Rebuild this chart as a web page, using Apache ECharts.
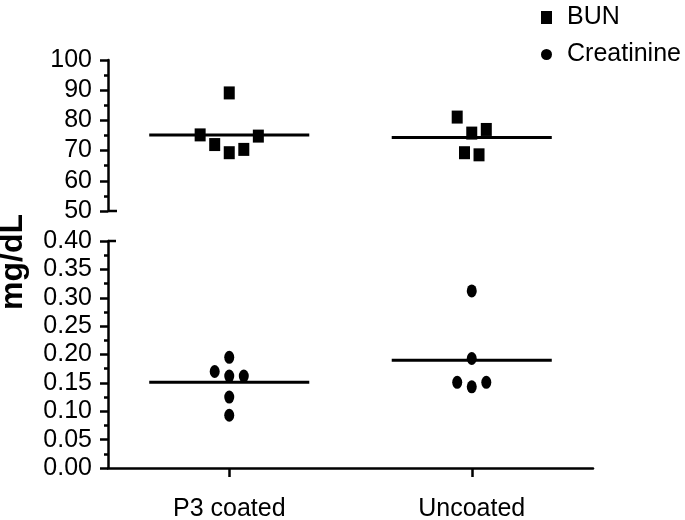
<!DOCTYPE html>
<html><head><meta charset="utf-8">
<script src="https://cdn.jsdelivr.net/npm/echarts@6/dist/echarts.min.js"></script>
<style>html,body{margin:0;padding:0;background:#fff}#c{width:685px;height:520px}</style>
</head><body><div id="c"></div>
<script>
// ---- data ----
const categories = ['P3 coated', 'Uncoated'];
const bunP3 = [89.1, 75.2, 72.0, 69.3, 70.4, 74.8];
const bunUncoated = [81.1, 75.8, 77.0, 69.3, 68.6];
const creatP3 = [0.195, 0.170, 0.162, 0.162, 0.125, 0.093];
const creatUncoated = [0.312, 0.193, 0.151, 0.143, 0.151];
const bunTicks = [50, 60, 70, 80, 90, 100];
const creatTicks = [0.00, 0.05, 0.10, 0.15, 0.20, 0.25, 0.30, 0.35, 0.40];
const yAxisTitle = 'mg/dL';

// ---- layout (horizontal jitter of points within a category column) ----
const jitBunP3 = [0, -0.12, -0.06, 0, 0.06, 0.12];
const jitBunUn = [-0.06, 0, 0.06, -0.03, 0.03];
const jitCrP3 = [0, -0.06, 0, 0.06, 0, 0];
const jitCrUn = [0, 0, -0.06, 0, 0.06];
const halfMean = 0.33;

const FONT = "'Liberation Sans', Arial, sans-serif";
const mean = a => a.reduce((s, v) => s + v, 0) / a.length;
const pts = (vals, jit, ci) => vals.map((v, i) => [ci + 0.5 + jit[i], v]);
const meanLine = (vals, ci) => [[ci + 0.5 - halfMean, mean(vals)], [ci + 0.5 + halfMean, mean(vals)]];

const chart = echarts.init(document.getElementById('c'), null, {renderer: 'canvas'});
const axisCommon = {
  axisLine: {show: true, lineStyle: {color: '#000', width: 2.5}},
  axisTick: {show: true, inside: false, length: 8, lineStyle: {color: '#000', width: 2.5}},
  minorTick: {show: true, splitNumber: 2, length: 4, lineStyle: {color: '#000', width: 2.5}},
  splitLine: {show: false},
  axisLabel: {color: '#000', fontSize: 25, fontFamily: FONT, margin: 16}
};
const lineStyle = {color: '#000', width: 3};
const lineSeries = (name, data, xi, yi) => ({
  name, type: 'line', data, xAxisIndex: xi, yAxisIndex: yi, symbol: 'none',
  lineStyle, silent: true, z: 1, animation: false
});

chart.setOption({
  animation: false,
  backgroundColor: '#fff',
  grid: [
    {left: 108, top: 60, width: 485, height: 151, outerBoundsMode: 'none'},
    {left: 108, top: 241, width: 485, height: 227, outerBoundsMode: 'none'}
  ],
  legend: {
    orient: 'vertical', left: 536, top: 0, itemGap: 12,
    itemWidth: 11, itemHeight: 13,
    textStyle: {color: '#000', fontSize: 25, fontFamily: FONT, padding: [0, 0, 0, 10]},
    data: [{name: 'BUN', icon: 'rect'}, {name: 'Creatinine', icon: 'circle'}]
  },
  xAxis: [
    {type: 'value', gridIndex: 0, min: 0, max: 2, show: false},
    {type: 'category', gridIndex: 1, data: categories, boundaryGap: true,
      axisLine: {show: true, lineStyle: {color: '#000', width: 2.5}},
      axisTick: {show: true, alignWithLabel: true, length: 9, lineStyle: {color: '#000', width: 2.5}},
      axisLabel: {color: '#000', fontSize: 25, fontFamily: FONT, margin: 29}},
    {type: 'value', gridIndex: 1, min: 0, max: 2, show: false}
  ],
  yAxis: [
    Object.assign({}, axisCommon, {type: 'value', gridIndex: 0,
      min: bunTicks[0], max: bunTicks[bunTicks.length - 1], interval: bunTicks[1] - bunTicks[0]}),
    Object.assign({}, axisCommon, {type: 'value', gridIndex: 1,
      min: creatTicks[0], max: creatTicks[creatTicks.length - 1], interval: creatTicks[1] - creatTicks[0],
      axisLabel: Object.assign({}, axisCommon.axisLabel, {formatter: v => v.toFixed(2)})})
  ],
  series: [
    {name: 'BUN', type: 'scatter', xAxisIndex: 0, yAxisIndex: 0, symbol: 'rect', symbolSize: [11, 13],
      itemStyle: {color: '#000', opacity: 1}, z: 3,
      data: pts(bunP3, jitBunP3, 0).concat(pts(bunUncoated, jitBunUn, 1))},
    {name: 'Creatinine', type: 'scatter', xAxisIndex: 2, yAxisIndex: 1, symbol: 'circle', symbolSize: [10, 13],
      itemStyle: {color: '#000', opacity: 1}, z: 3,
      data: pts(creatP3, jitCrP3, 0).concat(pts(creatUncoated, jitCrUn, 1))},
    lineSeries('BUN mean P3', meanLine(bunP3, 0), 0, 0),
    lineSeries('BUN mean Un', meanLine(bunUncoated, 1), 0, 0),
    lineSeries('Cr mean P3', meanLine(creatP3, 0), 2, 1),
    lineSeries('Cr mean Un', meanLine(creatUncoated, 1), 2, 1)
  ]
});

// axis break caps and shared y-axis title
const yTopBottom = chart.convertToPixel({yAxisIndex: 0}, bunTicks[0]);
const yTopTop = chart.convertToPixel({yAxisIndex: 0}, bunTicks[bunTicks.length - 1]);
const yBotTop = chart.convertToPixel({yAxisIndex: 1}, creatTicks[creatTicks.length - 1]);
const yBotBottom = chart.convertToPixel({yAxisIndex: 1}, creatTicks[0]);
const ax = chart.convertToPixel({xAxisIndex: 0}, 0);
chart.setOption({
  graphic: [
    {type: 'line', shape: {x1: ax, y1: yTopBottom, x2: ax + 9, y2: yTopBottom}, style: {stroke: '#000', lineWidth: 2.5}},
    {type: 'line', shape: {x1: ax, y1: yBotTop, x2: ax + 8, y2: yBotTop}, style: {stroke: '#000', lineWidth: 2.5}},
    {type: 'text', x: 13, y: (yTopTop + yBotBottom) / 2 - 2, rotation: Math.PI / 2,
      style: {text: yAxisTitle, fill: '#000', font: "bold 32px 'Liberation Sans', Arial, sans-serif",
        align: 'center', verticalAlign: 'middle'}}
  ]
});
</script></body></html>
